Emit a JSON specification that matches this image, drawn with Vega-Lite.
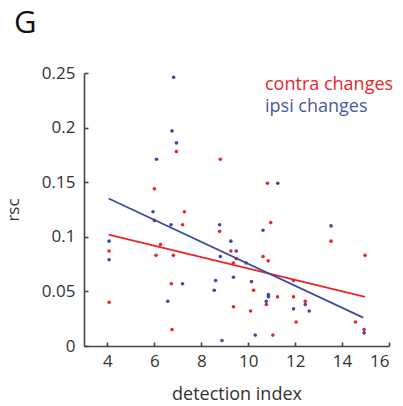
{
  "$schema": "https://vega.github.io/schema/vega-lite/v6.json",
  "width": 305,
  "height": 273,
  "autosize": {"type": "none"},
  "padding": {"left": 84, "top": 73, "right": 14, "bottom": 60},
  "background": "white",
  "title": {
    "text": "G",
    "anchor": "start",
    "frame": "group",
    "fontSize": 31,
    "font": "Open Sans",
    "fontWeight": "normal",
    "color": "#111111",
    "dx": -70,
    "offset": 24
  },
  "config": {
    "view": {"stroke": null},
    "font": "Open Sans",
    "axis": {
      "grid": false,
      "domainColor": "#444444",
      "domainWidth": 1.6,
      "tickColor": "#444444",
      "tickWidth": 1.6,
      "tickSize": -4,
      "labelFont": "Open Sans",
      "labelFontSize": 17,
      "labelColor": "#333333",
      "titleFont": "Open Sans",
      "titleFontSize": 18,
      "titleFontWeight": "normal",
      "titleColor": "#333333"
    }
  },
  "datasets": {
    "points": [
      {"idx": 6.94, "rsc": 0.178, "series": "contra changes"},
      {"idx": 8.81, "rsc": 0.171, "series": "contra changes"},
      {"idx": 6.0, "rsc": 0.144, "series": "contra changes"},
      {"idx": 7.28, "rsc": 0.123, "series": "contra changes"},
      {"idx": 7.2, "rsc": 0.111, "series": "contra changes"},
      {"idx": 8.78, "rsc": 0.105, "series": "contra changes"},
      {"idx": 9.26, "rsc": 0.087, "series": "contra changes"},
      {"idx": 4.07, "rsc": 0.087, "series": "contra changes"},
      {"idx": 6.26, "rsc": 0.093, "series": "contra changes"},
      {"idx": 6.07, "rsc": 0.083, "series": "contra changes"},
      {"idx": 6.81, "rsc": 0.083, "series": "contra changes"},
      {"idx": 9.49, "rsc": 0.08, "series": "contra changes"},
      {"idx": 9.37, "rsc": 0.076, "series": "contra changes"},
      {"idx": 6.72, "rsc": 0.057, "series": "contra changes"},
      {"idx": 4.07, "rsc": 0.04, "series": "contra changes"},
      {"idx": 9.37, "rsc": 0.036, "series": "contra changes"},
      {"idx": 10.1, "rsc": 0.032, "series": "contra changes"},
      {"idx": 6.75, "rsc": 0.015, "series": "contra changes"},
      {"idx": 10.82, "rsc": 0.149, "series": "contra changes"},
      {"idx": 10.96, "rsc": 0.113, "series": "contra changes"},
      {"idx": 13.53, "rsc": 0.096, "series": "contra changes"},
      {"idx": 14.98, "rsc": 0.083, "series": "contra changes"},
      {"idx": 10.63, "rsc": 0.082, "series": "contra changes"},
      {"idx": 10.85, "rsc": 0.078, "series": "contra changes"},
      {"idx": 11.93, "rsc": 0.06, "series": "contra changes"},
      {"idx": 10.23, "rsc": 0.051, "series": "contra changes"},
      {"idx": 11.25, "rsc": 0.045, "series": "contra changes"},
      {"idx": 11.93, "rsc": 0.045, "series": "contra changes"},
      {"idx": 12.43, "rsc": 0.041, "series": "contra changes"},
      {"idx": 10.77, "rsc": 0.038, "series": "contra changes"},
      {"idx": 12.04, "rsc": 0.022, "series": "contra changes"},
      {"idx": 14.57, "rsc": 0.022, "series": "contra changes"},
      {"idx": 14.94, "rsc": 0.015, "series": "contra changes"},
      {"idx": 11.05, "rsc": 0.01, "series": "contra changes"},
      {"idx": 6.82, "rsc": 0.246, "series": "ipsi changes"},
      {"idx": 6.75, "rsc": 0.197, "series": "ipsi changes"},
      {"idx": 6.94, "rsc": 0.186, "series": "ipsi changes"},
      {"idx": 6.09, "rsc": 0.171, "series": "ipsi changes"},
      {"idx": 5.94, "rsc": 0.123, "series": "ipsi changes"},
      {"idx": 6.0, "rsc": 0.115, "series": "ipsi changes"},
      {"idx": 6.71, "rsc": 0.111, "series": "ipsi changes"},
      {"idx": 8.78, "rsc": 0.111, "series": "ipsi changes"},
      {"idx": 9.26, "rsc": 0.096, "series": "ipsi changes"},
      {"idx": 9.49, "rsc": 0.087, "series": "ipsi changes"},
      {"idx": 4.07, "rsc": 0.096, "series": "ipsi changes"},
      {"idx": 4.07, "rsc": 0.079, "series": "ipsi changes"},
      {"idx": 8.81, "rsc": 0.082, "series": "ipsi changes"},
      {"idx": 9.91, "rsc": 0.076, "series": "ipsi changes"},
      {"idx": 7.2, "rsc": 0.057, "series": "ipsi changes"},
      {"idx": 8.61, "rsc": 0.06, "series": "ipsi changes"},
      {"idx": 8.55, "rsc": 0.051, "series": "ipsi changes"},
      {"idx": 9.37, "rsc": 0.063, "series": "ipsi changes"},
      {"idx": 6.57, "rsc": 0.041, "series": "ipsi changes"},
      {"idx": 8.88, "rsc": 0.005, "series": "ipsi changes"},
      {"idx": 11.26, "rsc": 0.149, "series": "ipsi changes"},
      {"idx": 10.63, "rsc": 0.106, "series": "ipsi changes"},
      {"idx": 13.53, "rsc": 0.11, "series": "ipsi changes"},
      {"idx": 10.14, "rsc": 0.059, "series": "ipsi changes"},
      {"idx": 10.86, "rsc": 0.047, "series": "ipsi changes"},
      {"idx": 10.86, "rsc": 0.045, "series": "ipsi changes"},
      {"idx": 10.77, "rsc": 0.041, "series": "ipsi changes"},
      {"idx": 12.43, "rsc": 0.038, "series": "ipsi changes"},
      {"idx": 11.93, "rsc": 0.034, "series": "ipsi changes"},
      {"idx": 12.6, "rsc": 0.032, "series": "ipsi changes"},
      {"idx": 14.94, "rsc": 0.012, "series": "ipsi changes"},
      {"idx": 10.3, "rsc": 0.01, "series": "ipsi changes"}
    ],
    "fits": [
      {"idx": 4.05, "rsc": 0.102, "series": "contra changes"},
      {"idx": 14.98, "rsc": 0.045, "series": "contra changes"},
      {"idx": 4.05, "rsc": 0.135, "series": "ipsi changes"},
      {"idx": 14.9, "rsc": 0.026, "series": "ipsi changes"}
    ]
  },
  "layer": [
    {
      "data": {"name": "points"},
      "mark": {"type": "circle", "size": 13, "opacity": 1},
      "encoding": {
        "x": {
          "field": "idx",
          "type": "quantitative",
          "scale": {"domain": [3, 16], "nice": false, "zero": false},
          "axis": {"values": [4, 6, 8, 10, 12, 14, 16], "title": "detection index", "labelPadding": 11, "titlePadding": 16}
        },
        "y": {
          "field": "rsc",
          "type": "quantitative",
          "scale": {"domain": [0, 0.25], "nice": false},
          "axis": {"values": [0, 0.05, 0.1, 0.15, 0.2, 0.25], "format": "~g", "title": "rsc", "titleFontSize": 17, "labelPadding": 13, "titlePadding": 19}
        },
        "color": {
          "field": "series",
          "type": "nominal",
          "scale": {"domain": ["contra changes", "ipsi changes"], "range": ["#e8262a", "#3b4c9f"]},
          "legend": {
            "title": null,
            "orient": "none",
            "legendX": 163,
            "legendY": 3,
            "symbolSize": 0,
            "symbolOpacity": 0,
            "symbolStrokeWidth": 0,
            "labelOffset": 0,
            "labelFontSize": 18,
            "labelFont": "Open Sans",
            "rowPadding": 4,
            "labelColor": {"expr": "datum.label == 'contra changes' ? '#e8262a' : '#4758a6'"}
          }
        }
      }
    },
    {
      "data": {"name": "fits"},
      "mark": {"type": "line", "strokeWidth": 1.7},
      "encoding": {
        "x": {"field": "idx", "type": "quantitative"},
        "y": {"field": "rsc", "type": "quantitative"},
        "color": {"field": "series", "type": "nominal"},
        "detail": {"field": "series"}
      }
    }
  ]
}
